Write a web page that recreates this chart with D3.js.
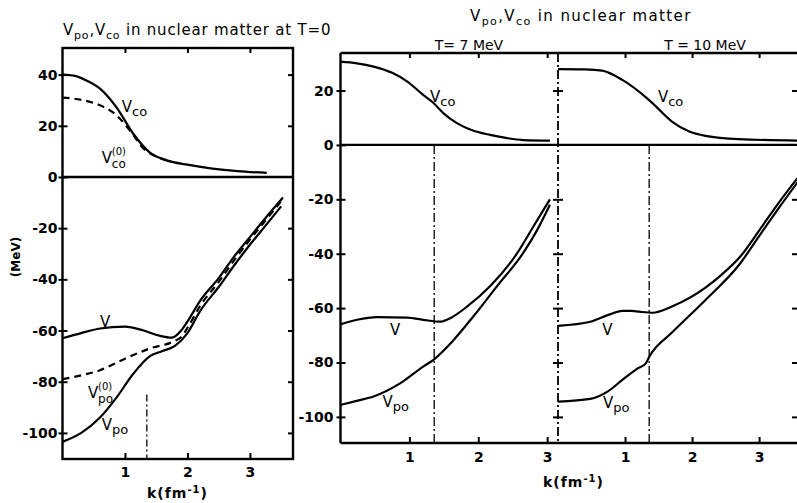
<!DOCTYPE html>
<html>
<head>
<meta charset="utf-8">
<script src="https://cdn.jsdelivr.net/npm/d3@7"></script>
<style>
body { margin: 0; background: #fff; }
svg text { font-family: "DejaVu Sans", sans-serif; fill: #000; }
.tick text { font-weight: bold; font-size: 14px; }
</style>
</head>
<body>
<svg id="fig" width="797" height="503"></svg>
<script>
// k in fm^-1, potentials in MeV
const kTicks = [1, 2, 3];
const vTicksT0 = [40, 20, 0, -20, -40, -60, -80, -100];
const vTicksT = [20, 0, -20, -40, -60, -80, -100];
const kF = [1.35, 1.36, 1.36];

// T = 0
const t0_Vco  = [[0,40],[0.2,39.5],[0.4,37.5],[0.6,34.5],[0.87,27],[1.13,17],[1.4,9.5],[1.67,6.5],[2.0,4.8],[2.4,3.3],[2.8,2.3],[3.27,1.6]];
const t0_Vco0 = [[0,31],[0.33,30],[0.6,28],[0.87,24],[1.1,17.5],[1.3,11],[1.5,8],[1.67,6.5]];
const t0_V    = [[0,-63],[0.3,-61],[0.6,-59.2],[1.0,-58.5],[1.3,-60],[1.55,-62],[1.75,-62.8],[1.9,-60],[2.0,-56.5],[2.2,-48.5],[2.5,-39.5],[2.75,-31],[3.0,-23.5],[3.25,-16],[3.53,-8]];
const t0_Vpo0 = [[0,-79],[0.3,-77.5],[0.6,-75.5],[1.0,-71],[1.4,-67],[1.8,-64],[1.9,-62.5],[2.0,-59],[2.2,-50.5],[2.5,-41],[2.75,-32.5],[3.0,-24.5],[3.25,-17],[3.5,-9.5]];
const t0_Vpo  = [[0,-103.5],[0.3,-100],[0.6,-94],[0.87,-86],[1.13,-77],[1.4,-70],[1.6,-68],[1.8,-66],[2.0,-61],[2.2,-52.5],[2.5,-43],[2.75,-34.5],[3.0,-26.5],[3.25,-19],[3.5,-11.5]];

// T = 7 MeV
const t7_Vco = [[0,30.6],[0.24,30],[0.48,28.8],[0.75,26.5],[0.97,23.3],[1.2,18.4],[1.35,15.4],[1.5,11.5],[1.69,8],[1.9,5.5],[2.17,3.7],[2.4,2.6],[2.65,1.8],[3.04,1.6]];
const t7_V   = [[0,-66],[0.24,-64.3],[0.53,-63.3],[0.97,-63.5],[1.2,-64.3],[1.45,-65],[1.6,-63.6],[1.84,-59.4],[2.17,-52],[2.56,-40],[2.8,-30],[3.04,-20]];
const t7_Vpo = [[0,-95.6],[0.25,-94],[0.48,-92.5],[0.87,-87.6],[1.2,-81.5],[1.35,-79],[1.6,-72.9],[1.93,-63],[2.27,-52],[2.65,-39.8],[2.85,-31.5],[3.04,-22]];

// T = 10 MeV
const t10_Vco = [[0,27.9],[0.4,27.8],[0.66,27.3],[0.96,23.9],[1.36,16.5],[1.7,8.6],[1.95,5],[2.2,3.3],[2.7,2.1],[3.61,1.6]];
const t10_V   = [[0,-66.5],[0.48,-65],[0.75,-62.5],[0.96,-61],[1.1,-61],[1.21,-61.3],[1.41,-61.7],[1.7,-59.4],[2.2,-52.5],[2.45,-47.5],[2.72,-41],[3.0,-31.5],[3.3,-21],[3.61,-11]];
const t10_Vpo = [[0,-94.4],[0.48,-93.4],[0.75,-90.5],[0.96,-86.4],[1.2,-82],[1.31,-80.3],[1.37,-77.5],[1.7,-69],[2.2,-57],[2.72,-43.5],[3.0,-33.5],[3.3,-23],[3.61,-12.5]];

const svg = d3.select('#fig');
const line = (x, y) => d3.line().x(d => x(d[0])).y(d => y(d[1])).curve(d3.curveMonotoneX);

function curve(g, x, y, pts, dash) {
  g.append('path').datum(pts)
    .attr('d', line(x, y))
    .style('fill', 'none').style('stroke', '#000').style('stroke-width', 2.2)
    .style('stroke-dasharray', dash || null);
}

function label(g, x, y, k, v, sub, sup) {
  const t = g.append('text').attr('x', x(k)).attr('y', y(v)).style('font-size', '15px');
  t.append('tspan').text('V');
  const px = x(k) + 10;
  if (sup) {
    t.append('tspan').attr('x', px).attr('dy', -8).style('font-size', '10px').text(sup);
    t.append('tspan').attr('x', px).attr('dy', 13).style('font-size', '12px').text(sub);
  } else {
    t.append('tspan').attr('dy', 4).style('font-size', '13px').text(sub);
  }
}

function title(x, y, rest, spacing) {
  const t = svg.append('text').attr('x', x).attr('y', y)
    .style('font-size', '15px').style('letter-spacing', spacing + 'px');
  t.append('tspan').text('V');
  t.append('tspan').attr('dy', 4).style('font-size', '11px').text('po');
  t.append('tspan').attr('dy', -4).text(',V');
  t.append('tspan').attr('dy', 4).style('font-size', '11px').text('co');
  t.append('tspan').attr('dy', -4).text(rest);
}

function klabel(x, y) {
  const t = svg.append('text').attr('x', x).attr('y', y)
    .style('font-size', '14px').style('font-weight', 'bold').style('letter-spacing', '1px');
  t.append('tspan').text('k(fm');
  t.append('tspan').attr('dy', -5).style('font-size', '10px').text('-1');
  t.append('tspan').attr('dy', 5).text(')');
}

const noDomain = a => a.select('.domain').remove();

// ---------- panel T = 0 ----------
const x1 = d3.scaleLinear().domain([0, 3.69]).range([62.5, 293]);
const y1 = d3.scaleLinear().domain([-110.2, 50.4]).range([459, 48]);
const g1 = svg.append('g');

g1.append('rect')
  .attr('x', x1(0)).attr('y', y1(50.4))
  .attr('width', x1(3.69) - x1(0)).attr('height', y1(-110.2) - y1(50.4))
  .style('fill', 'none').style('stroke', '#000').style('stroke-width', 2.4);
g1.append('line')
  .attr('x1', x1(0)).attr('x2', x1(3.69)).attr('y1', y1(0)).attr('y2', y1(0))
  .style('stroke', '#000').style('stroke-width', 2.4);

g1.append('g').attr('transform', `translate(${x1(0)},0)`)
  .call(d3.axisLeft(y1).tickValues(vTicksT0).tickSize(4).tickPadding(1).tickFormat(d => d))
  .call(noDomain)
  .call(a => a.selectAll('.tick line').attr('x1', 5).style('stroke-width', 2));
g1.append('g').attr('transform', `translate(${x1(3.69)},0)`)
  .call(d3.axisRight(y1).tickValues(vTicksT0.filter(d => d != 0)).tickSize(-5).tickFormat(''))
  .call(noDomain).selectAll('line').style('stroke-width', 2);
g1.append('g').attr('transform', `translate(0,${y1(50.4)})`)
  .call(d3.axisTop(x1).tickValues(kTicks).tickSize(-5).tickFormat(''))
  .call(noDomain).selectAll('line').style('stroke-width', 2);
g1.append('g').attr('transform', `translate(0,${y1(-110.2)})`)
  .call(d3.axisBottom(x1).tickValues(kTicks).tickSize(-6).tickPadding(8).tickFormat(d => d))
  .call(noDomain).selectAll('line').style('stroke-width', 2);

g1.append('line')
  .attr('x1', x1(kF[0])).attr('x2', x1(kF[0])).attr('y1', y1(-85)).attr('y2', y1(-110.2))
  .style('stroke', '#000').style('stroke-width', 1.3).style('stroke-dasharray', '7,3,2,3');

curve(g1, x1, y1, t0_Vco);
curve(g1, x1, y1, t0_Vco0, '7,5');
curve(g1, x1, y1, t0_V);
curve(g1, x1, y1, t0_Vpo0, '7,5');
curve(g1, x1, y1, t0_Vpo);

label(g1, x1, y1, 0.95, 25.4, 'co');
label(g1, x1, y1, 0.63, 5.5, 'co', '(0)');
label(g1, x1, y1, 0.6, -58.6, '');
label(g1, x1, y1, 0.41, -86.4, 'po', '(0)');
label(g1, x1, y1, 0.63, -98.9, 'po');

// ---------- panels T = 7 and T = 10 MeV ----------
const yT = d3.scaleLinear().domain([-109.6, 33.8]).range([443, 53]);
const x2 = d3.scaleLinear().domain([0, 3.07]).range([340.5, 552]);
const x3 = d3.scaleLinear().domain([0, 3.61]).range([558, 800]);
const g2 = svg.append('g');

[33.8, 0, -109.6].forEach(v => {
  g2.append('line')
    .attr('x1', x2(0)).attr('x2', x3(3.61)).attr('y1', yT(v)).attr('y2', yT(v))
    .style('stroke', '#000').style('stroke-width', 2.4);
});
g2.append('line')
  .attr('x1', x2(0)).attr('x2', x2(0)).attr('y1', yT(33.8)).attr('y2', yT(-109.6))
  .style('stroke', '#000').style('stroke-width', 2.4);
g2.append('line')
  .attr('x1', x3(0)).attr('x2', x3(0)).attr('y1', yT(33.8)).attr('y2', yT(-109.6))
  .style('stroke', '#000').style('stroke-width', 1.8).style('stroke-dasharray', '9,3,2,3');

g2.append('g').attr('transform', `translate(${x2(0)},0)`)
  .call(d3.axisLeft(yT).tickValues(vTicksT).tickSize(4).tickPadding(3).tickFormat(d => d))
  .call(noDomain)
  .call(a => a.selectAll('.tick line').attr('x1', 5).style('stroke-width', 2));
g2.append('g').attr('transform', `translate(${x3(0)},0)`)
  .call(d3.axisLeft(yT).tickValues(vTicksT.filter(d => d != 0)).tickSize(5).tickFormat(''))
  .call(noDomain)
  .call(a => a.selectAll('.tick line').attr('x1', 5).style('stroke-width', 2));
g2.append('g').attr('transform', `translate(${x3(3.61) - 3},0)`)
  .call(d3.axisRight(yT).tickValues(vTicksT.filter(d => d != 0)).tickSize(-5).tickFormat(''))
  .call(noDomain).selectAll('line').style('stroke-width', 2);

[x2, x3].forEach(x => {
  g2.append('g').attr('transform', `translate(0,${yT(33.8)})`)
    .call(d3.axisTop(x).tickValues(kTicks).tickSize(-5).tickFormat(''))
    .call(noDomain).selectAll('line').style('stroke-width', 2);
  g2.append('g').attr('transform', `translate(0,${yT(-109.6)})`)
    .call(d3.axisBottom(x).tickValues(kTicks).tickSize(-6).tickPadding(9).tickFormat(d => d))
    .call(noDomain).selectAll('line').style('stroke-width', 2);
});

[[x2, kF[1]], [x3, kF[2]]].forEach(([x, k]) => {
  g2.append('line')
    .attr('x1', x(k)).attr('x2', x(k)).attr('y1', yT(0)).attr('y2', yT(-109.6))
    .style('stroke', '#000').style('stroke-width', 1.3).style('stroke-dasharray', '9,3,2,3');
});

curve(g2, x2, yT, t7_Vco);
curve(g2, x2, yT, t7_V);
curve(g2, x2, yT, t7_Vpo);
curve(g2, x3, yT, t10_Vco);
curve(g2, x3, yT, t10_V);
curve(g2, x3, yT, t10_Vpo);

label(g2, x2, yT, 1.30, 15.8, 'co');
label(g2, x2, yT, 0.72, -69.9, '');
label(g2, x2, yT, 0.61, -96.3, 'po');
label(g2, x3, yT, 1.49, 15.8, 'co');
label(g2, x3, yT, 0.66, -69.9, '');
label(g2, x3, yT, 0.67, -96.7, 'po');

// ---------- titles and axis names ----------
title(63, 35, ' in nuclear matter at T=0', 0.8);
title(470, 21, ' in nuclear matter', 1.4);
svg.append('text').attr('x', 469).attr('y', 50).style('text-anchor', 'middle').style('font-size', '14px').text('T= 7 MeV');
svg.append('text').attr('x', 705).attr('y', 50).style('text-anchor', 'middle').style('font-size', '14px').text('T = 10 MeV');
klabel(147, 498);
klabel(543, 487);
svg.append('text')
  .attr('transform', 'translate(20,257) rotate(-90)')
  .style('text-anchor', 'middle').style('font-size', '12px').style('font-weight', 'bold')
  .text('(MeV)');
</script>
</body>
</html>
